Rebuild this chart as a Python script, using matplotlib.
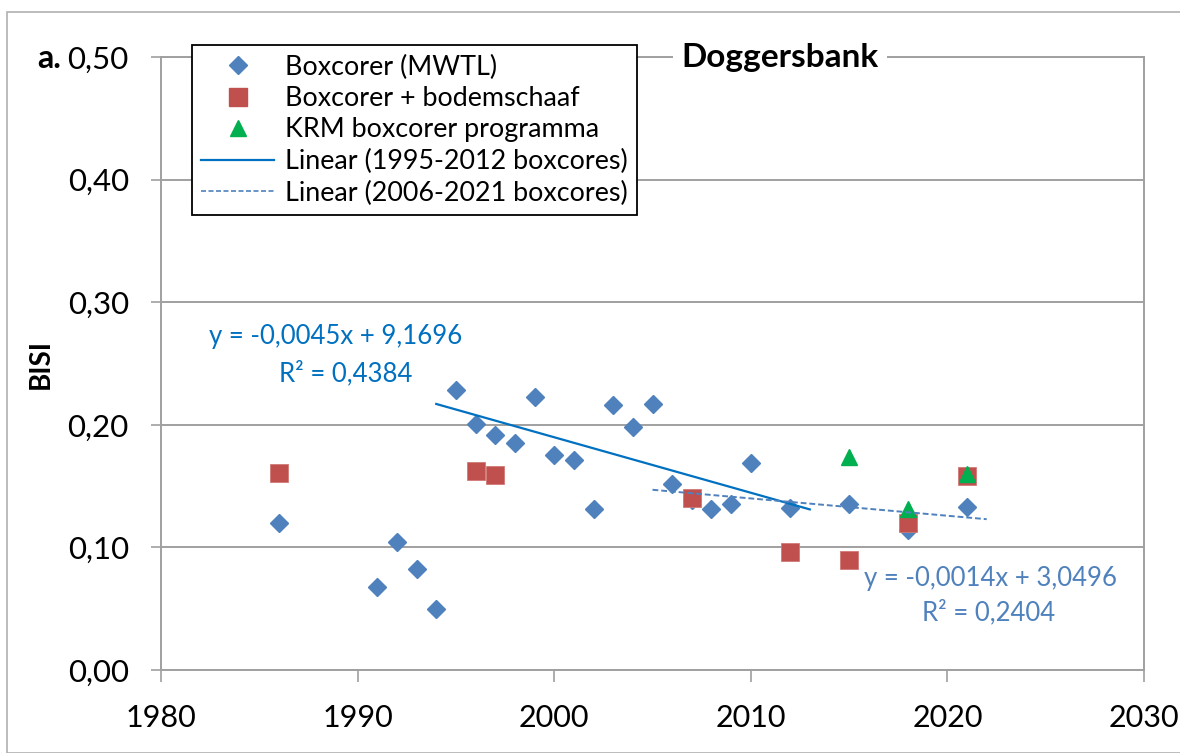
import matplotlib.pyplot as plt
from matplotlib.lines import Line2D
from matplotlib.patches import Rectangle

plt.rcParams['font.family'] = ['Lato', 'DejaVu Sans']

# blue diamonds: Boxcorer (MWTL)
mwtl_years = [1986, 1991, 1992, 1993, 1994, 1995, 1996, 1997, 1998, 1999, 2000,
              2001, 2002, 2003, 2004, 2005, 2006, 2007, 2008, 2009, 2010, 2012,
              2015, 2018, 2021]
mwtl_bisi = [0.120, 0.068, 0.104, 0.082, 0.050, 0.228, 0.201, 0.192, 0.185, 0.223,
             0.175, 0.171, 0.131, 0.216, 0.198, 0.217, 0.152, 0.139, 0.131, 0.135,
             0.169, 0.132, 0.135, 0.114, 0.133]

# red squares: Boxcorer + bodemschaaf
schaaf_years = [1986, 1996, 1997, 2007, 2012, 2015, 2018, 2021]
schaaf_bisi = [0.161, 0.162, 0.159, 0.140, 0.096, 0.090, 0.120, 0.158]

# green triangles: KRM boxcorer programma
krm_years = [2015, 2018, 2021]
krm_bisi = [0.174, 0.131, 0.160]

# trend lines (end points)
trend1_years = [1994, 2013]
trend1_bisi = [0.217, 0.131]
trend2_years = [2005, 2022]
trend2_bisi = [0.147, 0.123]

eq1 = ["y = -0,0045x + 9,1696", "R² = 0,4384"]
eq2 = ["y = -0,0014x + 3,0496", "R² = 0,2404"]

yticks = [0.0, 0.1, 0.2, 0.3, 0.4, 0.5]
ytick_labels = ["0,00", "0,10", "0,20", "0,30", "0,40", "0,50"]
xticks = [1980, 1990, 2000, 2010, 2020, 2030]

BLUE = "#4f81bd"
RED = "#c0504d"
GREEN = "#00b050"
LINE_BLUE = "#0070c0"
GRID = "#a0a0a0"

W, H = 1180, 753
fig = plt.figure(figsize=(W / 100, H / 100), dpi=100)
fig.patches.append(Rectangle((7 / W, 0), 2, 1 - 12 / H, transform=fig.transFigure,
                             fill=False, edgecolor="#b0b0b0", lw=1.2))

ax = fig.add_axes([161 / W, 1 - 670 / H, (1144 - 161) / W, (670 - 57) / H])

ax.plot(mwtl_years, mwtl_bisi, linestyle="none", marker="D", ms=9.5,
        color=BLUE, zorder=3)
ax.plot(schaaf_years, schaaf_bisi, linestyle="none", marker="s", ms=13,
        color=RED, markeredgecolor="#d07a78", markeredgewidth=0.6, zorder=4)
ax.plot(krm_years, krm_bisi, linestyle="none", marker="^", ms=12,
        color=GREEN, zorder=5)
ax.plot(trend1_years, trend1_bisi, color=LINE_BLUE, lw=1.6, zorder=6)
ax.plot(trend2_years, trend2_bisi, color=BLUE, lw=1.4, ls=(0, (3, 1.5)), zorder=6)

ax.set_xlim(1980, 2030)
ax.set_ylim(0, 0.5)
ax.set_xticks(xticks)
ax.set_yticks(yticks)
ax.set_yticklabels(ytick_labels)
ax.yaxis.grid(True, color=GRID, lw=1.4)
ax.set_axisbelow(True)
for side in ["left", "bottom", "right", "top"]:
    ax.spines[side].set_color(GRID)
    ax.spines[side].set_linewidth(1.4)
ax.tick_params(axis="y", direction="out", length=7.2, width=1.2, color=GRID,
               labelsize=22.5, pad=16)
ax.tick_params(axis="x", direction="out", length=8.6, width=1.2, color=GRID,
               labelsize=22, pad=16)

fig.text(41 / W, 1 - 364 / H, "BISI", fontsize=20, fontweight="bold",
         rotation=90, ha="center", va="center")

ax.text(1988.9, 0.272, eq1[0], color=LINE_BLUE, fontsize=18.5, ha="center", va="center")
ax.text(1989.4, 0.242, eq1[1], color=LINE_BLUE, fontsize=18.5, ha="center", va="center")
ax.text(2022.2, 0.075, eq2[0], color=BLUE, fontsize=18.5, ha="center", va="center")
ax.text(2022.1, 0.047, eq2[1], color=BLUE, fontsize=18.5, ha="center", va="center")

ax.text(2011.5, 0.5, "Doggersbank", fontsize=24, fontweight="bold", ha="center",
        va="center", zorder=7, clip_on=False,
        bbox=dict(facecolor="white", edgecolor="none", pad=6))
fig.text(49 / W, 1 - 68 / H, "a.", fontsize=23, fontweight="bold",
         ha="center", va="baseline")

handles = [
    Line2D([], [], ls="none", marker="D", ms=9.5, color=BLUE),
    Line2D([], [], ls="none", marker="s", ms=13, color=RED),
    Line2D([], [], ls="none", marker="^", ms=12, color=GREEN),
    Line2D([], [], color=LINE_BLUE, lw=1.6),
    Line2D([], [], color=BLUE, lw=1.2, ls=(0, (3, 1.5))),
]
labels = ["Boxcorer (MWTL)", "Boxcorer + bodemschaaf", "KRM boxcorer programma",
          "Linear (1995-2012 boxcores)", "Linear (2006-2021 boxcores)"]
leg = ax.legend(handles, labels, loc="upper left",
                bbox_to_anchor=(192 / W, 1 - 45 / H), bbox_transform=fig.transFigure,
                fontsize=19.4, frameon=True, fancybox=False, framealpha=1,
                edgecolor="black", borderpad=0.35, labelspacing=0.24,
                handlelength=2.7, handletextpad=0.4, borderaxespad=0)
leg.get_frame().set_linewidth(1.3)
leg.set_zorder(8)

fig.savefig("out.png", dpi=100)
